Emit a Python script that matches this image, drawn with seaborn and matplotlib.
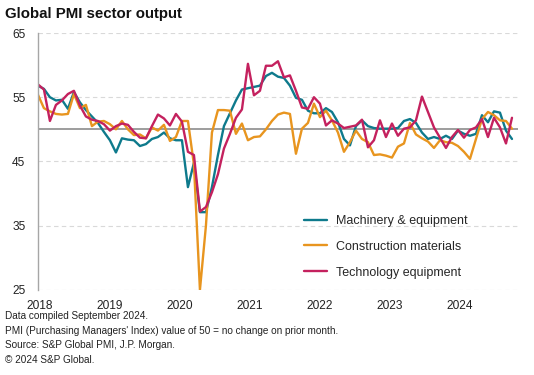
import numpy as np
import pandas as pd
import matplotlib
matplotlib.use('Agg')
import matplotlib.pyplot as plt
import seaborn as sns

# monthly PMI readings, Jan 2018 - Aug 2024
machinery = [56.8, 56.3, 55.0, 54.5, 54.6, 53.2, 55.8, 54.2, 53.0, 52.0, 51.0, 49.6,
             48.3, 46.4, 48.6, 48.4, 48.3, 47.4, 47.7, 48.5, 48.8, 49.5, 48.6, 48.3,
             48.3, 41.0, 44.8, 37.1, 37.1, 41.0, 46.0, 50.5, 52.5, 54.5, 56.2, 56.4,
             56.6, 56.8, 58.3, 58.8, 58.2, 58.0, 56.8, 54.9, 54.6, 52.9, 52.5, 52.5,
             53.3, 52.7, 51.1, 48.5, 47.5, 50.5, 51.4, 50.5, 50.2, 50.1, 50.1, 50.1,
             50.2, 51.3, 51.6, 51.0, 49.5, 48.5, 48.8, 48.5, 49.0, 48.5, 49.8, 49.3,
             49.0, 49.3, 52.2, 51.1, 52.8, 52.6, 49.8, 48.5]
construction = [55.4, 53.3, 52.8, 52.4, 52.3, 52.4, 55.5, 53.3, 53.8, 50.5, 51.2, 51.3,
                50.8, 50.0, 51.3, 50.0, 49.1, 49.2, 48.6, 50.3, 49.8, 50.7, 48.2, 48.8,
                51.3, 51.3, 44.5, 25.0, 35.0, 49.5, 53.0, 53.0, 52.9, 49.3, 50.9, 48.3,
                48.8, 48.9, 50.0, 51.3, 52.3, 52.6, 52.4, 46.2, 50.1, 51.0, 54.0, 51.9,
                52.9, 51.4, 49.5, 46.5, 48.0, 49.8, 48.5, 48.0, 46.0, 46.1, 45.9, 45.6,
                47.3, 47.8, 51.0, 49.2, 48.6, 48.1, 47.1, 48.3, 48.0, 47.9, 47.4, 46.5,
                45.4, 48.5, 51.6, 52.7, 52.2, 51.4, 51.3, 50.1]
technology = [57.0, 56.2, 51.3, 53.8, 54.5, 55.5, 56.0, 53.7, 52.0, 51.5, 51.3, 50.8,
              49.8, 50.5, 50.9, 50.7, 49.6, 48.7, 48.6, 50.5, 52.3, 51.7, 50.6, 52.4,
              51.2, 46.5, 46.0, 37.2, 37.9, 40.2, 43.0, 47.0, 49.3, 51.8, 53.1, 60.2,
              55.3, 56.0, 59.9, 59.9, 60.6, 58.1, 58.4, 56.0, 53.4, 53.2, 55.0, 54.0,
              50.6, 51.4, 50.9, 50.2, 50.4, 50.6, 51.5, 47.2, 48.3, 51.4, 48.8, 50.9,
              49.0, 50.1, 50.3, 51.4, 55.1, 52.7, 50.3, 48.7, 47.1, 48.8, 49.9, 48.7,
              49.9, 50.3, 51.6, 48.8, 51.8, 50.3, 47.8, 51.8]

series_names = ['Machinery & equipment', 'Construction materials', 'Technology equipment']
colors = ['#0E7A8C', '#E8951F', '#C4215E']
year_labels = ['2018', '2019', '2020', '2021', '2022', '2023', '2024']
y_ticks = [25, 35, 45, 55, 65]

notes = ['Data compiled September 2024.',
         "PMI (Purchasing Managers' Index) value of 50 = no change on prior month.",
         'Source: S&P Global PMI, J.P. Morgan.',
         '\u00a9 2024 S&P Global.']

month = np.arange(len(machinery))
df = pd.DataFrame({'month': np.tile(month, 3),
                   'value': machinery + construction + technology,
                   'series': np.repeat(series_names, len(month))})

sns.set_style('white')
plt.rcParams['font.family'] = ['Liberation Sans', 'DejaVu Sans']

fig = plt.figure(figsize=(5.34, 3.75), dpi=100)
ax = fig.add_axes([0.071, 0.227, 0.899, 0.685])

sns.lineplot(data=df, x='month', y='value', hue='series', hue_order=series_names,
             palette=colors, linewidth=1.7, ax=ax)

ax.set_xlim(0, 80)
ax.set_ylim(25, 65)
ax.set_yticks(y_ticks)
ax.set_xticks(np.arange(len(year_labels)) * 11.65 + 0.33)
ax.set_xticklabels(year_labels)
ax.tick_params(axis='both', length=0, labelsize=8.6, colors='#222222')
ax.tick_params(axis='x', pad=7)
ax.tick_params(axis='y', pad=9)
ax.set_xlabel('')
ax.set_ylabel('')

for v in [35, 45, 55, 65, 25]:
    ax.axhline(v, color='#d9d9d9', lw=0.8, ls=(0, (4, 3)), zorder=0)
ax.axhline(50, color='#8c8c8c', lw=1.2, zorder=1)

for s in ['top', 'right', 'bottom']:
    ax.spines[s].set_visible(False)
ax.spines['left'].set_color('#a6a6a6')
ax.spines['left'].set_linewidth(1.0)

handles, _ = ax.get_legend_handles_labels()
ax.legend(handles, series_names, loc='upper left', bbox_to_anchor=(0.53, 0.335),
          frameon=False, fontsize=9, handlelength=1.9, labelspacing=1.1,
          handletextpad=0.7)

fig.text(0.01, 0.962, 'Global PMI sector output', fontsize=10.8, fontweight='bold',
         va='center', ha='left', color='#111111')

for i, line in enumerate(notes):
    fig.text(0.01, 0.157 - i * 0.039, line, fontsize=7.2, va='center', ha='left',
             color='#222222')

plt.savefig('out.png', dpi=100)
